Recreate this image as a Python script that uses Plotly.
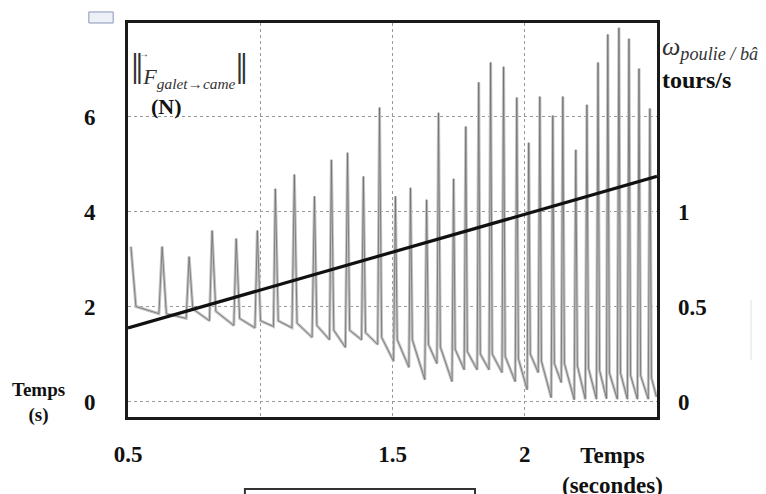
import plotly.graph_objects as go

# ---- data ----
# force signal |F galet->came| (N): one cycle = peak, drop after the fall, low before next rise
peak_t = [0.511, 0.629, 0.731, 0.818, 0.909, 0.989, 1.057, 1.129, 1.205, 1.269, 1.330, 1.390,
          1.451, 1.511, 1.568, 1.629, 1.674, 1.731, 1.777, 1.826, 1.871, 1.920, 1.970, 2.015,
          2.057, 2.106, 2.144, 2.193, 2.235, 2.277, 2.314, 2.356, 2.394, 2.432, 2.473]
peak_f = [3.26, 3.26, 3.05, 3.60, 3.43, 3.60, 4.48, 4.78, 4.32, 5.09, 5.24, 4.74,
          6.19, 4.32, 4.50, 4.25, 6.08, 4.69, 5.79, 6.72, 7.14, 7.05, 6.40, 5.45,
          6.42, 6.02, 6.42, 5.30, 6.25, 7.14, 7.73, 7.87, 7.64, 7.01, 6.17]
drop_t = [0.530, 0.645, 0.745, 0.832, 0.922, 1.001, 1.068, 1.139, 1.214, 1.278, 1.338, 1.398,
          1.459, 1.518, 1.575, 1.636, 1.681, 1.737, 1.783, 1.832, 1.877, 1.926, 1.976, 2.021,
          2.063, 2.112, 2.150, 2.199, 2.241, 2.283, 2.320, 2.362, 2.400, 2.438, 2.479]
drop_f = [2.00, 1.85, 1.95, 1.90, 1.75, 1.70, 1.70, 1.65, 1.60, 1.50, 1.50, 1.45,
          1.35, 1.30, 1.30, 1.20, 1.15, 1.10, 1.05, 1.00, 1.00, 0.95, 0.90, 1.00,
          0.85, 0.80, 0.80, 0.75, 0.70, 0.65, 0.60, 0.60, 0.55, 0.55, 0.50]
low_t = [0.617, 0.720, 0.808, 0.900, 0.980, 1.050, 1.120, 1.196, 1.262, 1.322, 1.383, 1.444,
         1.504, 1.562, 1.622, 1.668, 1.725, 1.771, 1.820, 1.865, 1.914, 1.964, 2.009, 2.051,
         2.100, 2.138, 2.187, 2.229, 2.271, 2.309, 2.350, 2.388, 2.426, 2.467, 2.498]
low_f = [1.85, 1.75, 1.70, 1.60, 1.55, 1.58, 1.55, 1.35, 1.30, 1.14, 1.30, 1.20,
         0.85, 0.72, 0.46, 0.80, 0.42, 0.67, 0.67, 0.67, 0.61, 0.42, 0.25, 0.61,
         0.08, 0.40, 0.04, 0.05, 0.05, 0.06, 0.05, 0.05, 0.05, 0.05, 0.10]

# rotation speed omega poulie/bati (tours/s), straight line
omega_t = [0.5, 2.5]
omega_v = [0.3875, 1.185]

x_tickvals = [0.5, 1.0, 1.5, 2.0]
x_ticktext = ["0.5", " ", "1.5", "2"]
y_tickvals = [0, 2, 4, 6]
y2_tickvals = [0, 0.5, 1]
y2_ticktext = ["0", "0.5", "1"]

# interleave the read points into one polyline
sig_t, sig_f = [], []
for i in range(len(peak_t)):
    sig_t += [peak_t[i], drop_t[i], low_t[i]]
    sig_f += [peak_f[i], drop_f[i], low_f[i]]

SERIF = "Liberation Serif"

fig = go.Figure()
fig.add_trace(go.Scatter(x=sig_t, y=sig_f, mode="lines",
                         line=dict(color="#c4c4c4", width=3), hoverinfo="skip"))
fig.add_trace(go.Scatter(x=sig_t, y=sig_f, mode="lines",
                         line=dict(color="#6e6e6e", width=0.8), hoverinfo="skip"))
fig.add_trace(go.Scatter(x=omega_t, y=omega_v, mode="lines", yaxis="y2",
                         line=dict(color="#111111", width=3.2), hoverinfo="skip"))

# the page body adds an 8px offset; margins compensate so the plot area sits at 128..657 x 23..417
fig.update_layout(
    width=766, height=494,
    margin=dict(l=120, r=117, t=15, b=85),
    paper_bgcolor="white", plot_bgcolor="white",
    showlegend=False,
    font=dict(family=SERIF, color="#111111"),
    xaxis=dict(range=[0.5, 2.5], tickvals=x_tickvals, ticktext=x_ticktext,
               showgrid=True, gridcolor="#9a9a9a", griddash="dot", gridwidth=1,
               showline=True, linecolor="#1a1a1a", linewidth=3, mirror=True,
               ticks="", zeroline=False, ticklabelstandoff=14, automargin=False,
               tickfont=dict(family=SERIF, size=23, weight="bold")),
    yaxis=dict(range=[-0.326, 7.97], tickvals=y_tickvals,
               showgrid=True, gridcolor="#9a9a9a", griddash="dot", gridwidth=1,
               showline=True, linecolor="#1a1a1a", linewidth=3, mirror=True,
               ticks="", zeroline=False, ticklabelstandoff=25, automargin=False,
               tickfont=dict(family=SERIF, size=23, weight="bold")),
    yaxis2=dict(range=[-0.0816, 1.9925], overlaying="y", side="right",
                tickvals=y2_tickvals, ticktext=y2_ticktext, showgrid=False,
                zeroline=False, showline=False, ticks="", ticklabelstandoff=20,
                automargin=False,
                tickfont=dict(family=SERIF, size=23, weight="bold")),
)

ann = [
    dict(x=-0.170, y=0.036, text="<b>Temps</b><br><b>(s)</b>", font=dict(size=19)),
    dict(x=0.915, y=-0.137, text="<b>Temps</b><br><b>(secondes)</b>", font=dict(size=23)),
    dict(x=0.0737, y=0.787, text="<b>(N)</b>", font=dict(size=22)),
    dict(x=0.002, y=0.881, xanchor="left",
         text="<span style='font-size:44px'>‖</span><i>F</i><sub><i>galet→came</i></sub><span style='font-size:44px'>‖</span>",
         font=dict(size=22, color="#333333")),
    dict(x=0.031, y=0.923, text="→", font=dict(size=10, color="#333333")),
    dict(x=1.006, y=0.937, xanchor="left",
         text="<i>ω</i><sub><i>poulie / bâti</i></sub>", font=dict(size=26, color="#333333")),
    dict(x=1.006, y=0.855, xanchor="left", text="<b>tours/s</b>", font=dict(size=24)),
]
for a in ann:
    a.setdefault("xanchor", "center")
    fig.add_annotation(xref="paper", yref="paper", showarrow=False, yanchor="middle", **a)

# page decorations from the scanned document
fig.add_shape(type="rect", xref="paper", yref="paper", x0=0.221, x1=0.656, y0=-0.183, y1=-0.3,
              line=dict(color="#333333", width=2))
fig.add_shape(type="rect", xref="paper", yref="paper", x0=-0.074, x1=-0.028, y0=1.0, y1=1.028,
              line=dict(color="#8a96b8", width=1), fillcolor="#eef0f8")
fig.add_shape(type="line", xref="paper", yref="paper", x0=1.1777, x1=1.1777, y0=0.145, y1=0.297,
              line=dict(color="#e0e0e0", width=1))

fig.write_html("out.html")
